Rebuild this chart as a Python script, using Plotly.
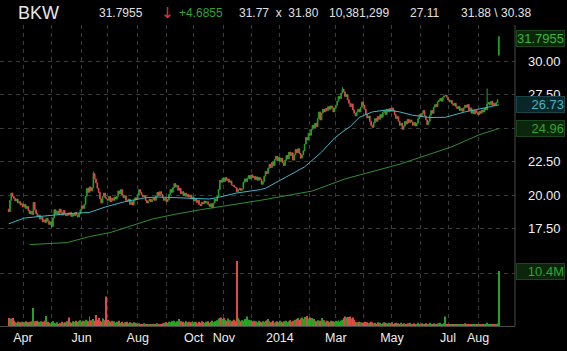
import pandas as pd
import plotly.graph_objects as go

# ---------------- data ----------------
closes = [
    18.75, 19.6, 20.15, 19.9, 19.75, 19.55, 19.7, 19.4, 19.5, 19.25,
    19.35, 19.1, 19.3, 19.0, 19.15, 18.85, 18.6, 18.8, 18.55, 19.45,
    18.9, 18.6, 18.4, 18.5, 18.2, 18.35, 18.0, 18.15, 17.95, 18.25,
    18.05, 17.8, 18.0, 17.65, 18.3, 18.9, 18.6, 18.8, 18.55, 18.95,
    18.7, 18.5, 18.85, 18.6, 18.45, 18.65, 18.5, 18.7, 18.4, 18.55,
    18.45, 18.7, 18.5, 18.35, 18.6, 18.9, 19.2, 19.0, 19.3, 19.9,
    20.5, 20.2, 20.6, 20.3, 20.55, 21.6, 21.2, 20.9, 20.5, 20.2,
    19.7, 19.4, 19.9, 20.15, 19.8, 19.7, 19.6, 19.9, 19.5, 19.75,
    19.6, 19.85, 19.7, 19.9, 20.3, 20.1, 20.4, 20.0, 19.8, 19.95,
    19.6, 19.55, 19.7, 19.3, 19.5, 19.25, 19.6, 19.8, 19.65, 20.0,
    20.4, 20.2, 20.0, 19.85, 19.95, 19.6, 19.4, 19.55, 19.7, 19.5,
    19.65, 19.8, 19.6, 19.9, 20.2, 19.95, 20.25, 20.05, 19.8, 19.6,
    19.75, 19.5, 19.65, 20.05, 20.4, 20.2, 20.55, 20.85, 20.6, 20.7,
    20.35, 20.5, 20.1, 20.25, 19.95, 20.15, 19.9, 20.05, 19.85, 20.0,
    19.7, 19.85, 19.55, 19.7, 19.45, 19.6, 19.3, 19.2, 19.45, 19.35,
    19.55, 19.4, 19.5, 19.3, 19.15, 19.35, 19.05, 19.4, 19.7, 19.55,
    19.9, 20.4, 21.1, 20.95, 21.25, 21.0, 21.3, 21.1, 21.2, 20.95,
    21.05, 20.75, 20.7, 20.6, 20.55, 20.25, 20.4, 20.5, 20.35, 20.45,
    20.95, 21.2, 21.0, 21.25, 21.45, 21.2, 21.5, 21.3, 21.4, 21.15,
    21.35, 21.1, 21.3, 21.15, 20.8, 21.0, 21.4, 21.75, 21.6, 22.0,
    22.3, 22.05, 22.45, 22.2, 22.65, 22.9, 22.55, 22.8, 22.5, 22.75,
    22.4, 22.2, 22.6, 22.95, 22.7, 23.2, 22.95, 23.15, 22.6, 23.0,
    23.4, 23.15, 23.45, 23.1, 22.75, 23.0, 23.3, 23.8, 24.3, 24.1,
    24.6, 24.45, 24.9, 25.2, 25.0, 25.35, 25.1, 25.7, 26.2, 25.6,
    26.1, 26.4, 26.2, 26.45, 26.3, 26.6, 26.4, 26.65, 26.5, 26.2,
    26.5, 26.7, 27.0, 27.35, 27.2, 27.6, 27.9, 27.7, 27.35, 27.5,
    27.1, 26.85, 26.6, 26.8, 26.35, 26.1, 25.9, 26.2, 26.4, 26.2,
    26.55, 26.95, 26.7, 26.4, 26.0, 25.75, 25.9, 25.5, 25.2, 25.05,
    25.4, 25.7, 25.5, 25.85, 25.65, 26.0, 25.8, 26.15, 26.3, 26.0,
    26.4, 26.2, 26.45, 26.25, 26.5, 26.3, 26.0, 25.7, 25.85, 25.5,
    25.2, 25.35, 24.9, 25.15, 25.5, 25.3, 25.65, 25.4, 25.6, 25.45,
    25.2, 25.4, 25.15, 25.35, 25.7, 26.0, 25.85, 26.1, 26.3, 25.9,
    25.6, 25.25, 25.5, 25.95, 26.3, 26.1, 26.55, 26.75, 26.6, 26.95,
    27.05, 27.2, 27.0, 27.3, 27.4, 27.45, 27.3, 27.1, 26.95, 27.05,
    26.8, 26.7, 26.85, 26.6, 26.45, 26.6, 26.3, 26.45, 26.25, 26.5,
    26.7, 26.55, 26.75, 26.3, 26.5, 26.1, 26.35, 26.05, 26.3, 26.15,
    26.0, 26.25, 26.1, 26.35, 26.2, 26.5, 26.35, 26.8, 26.9, 26.75,
    27.0, 26.7, 26.85, 26.7, 26.9, 27.11, 31.7955,
]
first_open = 18.95
open_gaps = {376: 30.45}
high_wicks = {65: 21.75, 256: 28.05, 367: 27.95, 376: 31.88}
low_wicks = {33: 17.55, 376: 30.38}

volumes_m = [
    1.5, 1.1, 1.4, 1.5, 1.0, 0.7, 0.6, 0.8, 0.6, 0.7,
    0.8, 0.6, 0.7, 0.9, 0.6, 0.7, 0.8, 0.6, 0.9, 3.4,
    0.9, 0.7, 1.0, 0.8, 0.7, 0.9, 0.8, 0.6, 1.0, 1.9,
    0.8, 0.6, 0.5, 0.7, 0.9, 0.6, 0.5, 0.7, 0.4, 0.6,
    0.5, 0.8, 0.6, 0.7, 0.5, 0.9, 1.6, 0.7, 0.6, 0.9,
    0.8, 0.7, 1.0, 0.8, 0.9, 1.1, 0.8, 1.0, 0.9, 1.2,
    1.0, 0.9, 1.8, 1.1, 0.9, 1.3, 1.0, 2.1, 1.2, 1.5,
    1.0, 0.8, 1.4, 0.9, 1.1, 5.6, 1.2, 0.9, 0.8, 1.0,
    0.7, 0.9, 0.6, 0.8, 0.7, 1.0, 0.6, 0.8, 0.5, 0.7,
    0.6, 0.8, 0.5, 0.7, 0.6, 0.5, 0.7, 0.6, 0.5, 0.4,
    0.5, 0.3, 0.4, 0.3, 0.5, 0.3, 0.4, 0.2, 0.3, 0.4,
    0.3, 0.2, 0.4, 0.3, 0.5, 0.3, 0.4, 0.3, 0.5, 0.6,
    0.5, 0.7, 0.6, 0.8, 0.7, 0.9, 0.8, 1.0, 0.7, 0.9,
    0.8, 1.3, 0.9, 0.7, 0.8, 0.6, 0.9, 0.7, 0.8, 0.6,
    0.7, 0.9, 0.6, 0.8, 0.7, 0.5, 0.8, 0.6, 0.9, 0.7,
    0.6, 0.8, 0.7, 0.9, 0.6, 0.8, 1.0, 0.7, 0.9, 0.8,
    1.1, 1.4, 1.5, 1.6, 1.3, 1.5, 1.2, 1.0, 1.4, 0.9,
    1.1, 0.9, 1.0, 1.2, 0.9, 12.3, 1.5, 1.2, 0.9, 1.1,
    1.0, 1.3, 0.9, 1.8, 1.2, 0.8, 1.1, 0.9, 1.0, 0.8,
    0.9, 0.7, 1.0, 0.8, 0.7, 0.9, 0.8, 1.0, 1.1, 1.3,
    0.9, 0.7, 0.8, 1.0, 0.6, 0.8, 0.9, 0.7, 1.0, 0.8,
    0.7, 0.9, 0.8, 1.0, 0.7, 0.9, 1.1, 0.8, 1.0, 0.9,
    1.2, 1.3, 1.5, 1.2, 1.4, 1.6, 1.3, 1.7, 1.5, 1.9,
    1.4, 1.6, 1.2, 1.5, 1.3, 1.0, 0.9, 1.1, 0.8, 1.0,
    1.5, 0.9, 1.1, 0.8, 1.0, 0.9, 0.7, 1.0, 0.8, 0.9,
    0.8, 1.0, 0.9, 1.1, 0.8, 1.0, 1.2, 1.5, 1.8, 1.6,
    1.7, 1.5, 1.8, 1.4, 1.6, 1.2, 0.8, 0.7, 0.6, 0.8,
    0.7, 0.5, 0.6, 0.8, 0.6, 0.7, 0.5, 0.6, 0.8, 0.7,
    0.5, 0.6, 0.4, 0.7, 0.5, 0.6, 0.4, 0.5, 0.7, 0.6,
    0.5, 0.4, 0.6, 0.5, 0.7, 0.4, 0.5, 0.6, 0.4, 0.5,
    0.4, 0.6, 0.3, 0.5, 0.4, 0.3, 0.5, 0.4, 0.6, 0.3,
    0.4, 0.5, 0.3, 0.4, 0.6, 0.3, 0.4, 0.5, 0.3, 0.4,
    0.5, 0.3, 0.4, 0.6, 0.4, 0.3, 0.5, 0.4, 0.3, 0.5,
    0.4, 0.6, 0.4, 0.3, 0.5, 1.8, 0.4, 0.3, 0.4, 0.3,
    0.2, 0.4, 0.3, 0.2, 0.4, 0.3, 0.2, 0.3, 0.4, 0.2,
    0.5, 0.3, 0.2, 0.4, 0.3, 0.2, 0.3, 0.4, 0.2, 0.3,
    0.3, 0.2, 0.4, 0.3, 0.2, 0.3, 0.4, 0.6, 0.4, 0.3,
    0.4, 0.3, 0.2, 0.3, 0.4, 0.5, 10.381299,
]

# moving averages (trading-day number, value)
ma50_day = [0, 12, 19, 32, 45, 62, 74, 89, 105, 115, 128, 139, 154, 162, 175,
            193, 197, 212, 227, 240, 250, 258, 262, 269, 279, 290, 300, 310,
            323, 335, 350, 365, 376]
ma50_val = [17.85, 18.28, 18.35, 18.5, 18.6, 18.7, 19.1, 19.5, 19.8, 19.85, 19.8,
            19.8, 19.7, 19.85, 20.15, 20.4, 20.5, 21.3, 22.1, 23.2, 24.25, 24.85,
            25.1, 25.8, 26.2, 26.35, 26.2, 25.95, 25.78, 25.8, 26.2, 26.5, 26.73]
ma200_day = [16, 45, 62, 78, 110, 127, 147, 175, 193, 233, 258, 300, 340, 361, 376]
ma200_val = [16.3, 16.45, 16.9, 17.2, 18.2, 18.55, 18.9, 19.35, 19.6, 20.3, 21.2,
             22.3, 23.6, 24.5, 24.96]

tick_months = ["2013-04", "2013-05", "2013-06", "2013-07", "2013-08", "2013-09",
               "2013-10", "2013-11", "2013-12", "2014-01", "2014-02", "2014-03",
               "2014-04", "2014-05", "2014-06", "2014-07", "2014-08"]
tick_texts = ["Apr", "", "Jun", "", "Aug", "", "Oct", "Nov", "", "2014", "",
              "Mar", "", "May", "", "Jul", "Aug"]

price_ticks = [17.5, 20.0, 22.5, 25.0, 27.5, 30.0]
price_tick_texts = ["17.50", "20.00", "22.50", "", "27.50", "30.00"]

header = [("BKW", "#e6e6e6"), ("31.7955", "#e0e0e0"), ("\u2193", "#e23a3a"),
          ("+4.6855", "#2fa52f"), ("31.77  x  31.80", "#e0e0e0"),
          ("10,381,299", "#e0e0e0"), ("27.11", "#e0e0e0"), ("31.88 \\ 30.38", "#e0e0e0")]

# ---------------- build ----------------
n = len(closes)
dates = pd.bdate_range(end="2014-08-25", periods=n)
days = list(range(n))
opens = [first_open] + closes[:-1]
for k, v in open_gaps.items():
    opens[k] = v
highs = [max(o, c) for o, c in zip(opens, closes)]
lows = [min(o, c) for o, c in zip(opens, closes)]
for k, v in high_wicks.items():
    highs[k] = v
for k, v in low_wicks.items():
    lows[k] = v

GREEN = "#22a322"
RED = "#e24848"
CYAN = "#3fb6c6"
MA200 = "#2f8f2f"
GRID = "#3a3a3a"
FONT = "Liberation Sans, Arial, sans-serif"

tick_pos = []
for m in tick_months:
    start = pd.Timestamp(m + "-01")
    tick_pos.append(int((dates < start).sum()))

# pixel layout of the window
W, H = 567, 351
L, R, T, B = 0, 52, 25, 25
plot_w = W - L - R
plot_h = H - T - B
apr_px, aug_px = 23, 478
i_apr, i_aug = tick_pos[0], tick_pos[-1]
px_per_day = (aug_px - apr_px) / (i_aug - i_apr)
x0 = i_apr - (apr_px - L) / px_per_day
x1 = i_apr + (L + plot_w - apr_px) / px_per_day

price_top_px, price_bot_px = 25, 250
vol_top_px, vol_bot_px = 258, 326
ppx = 13.4  # px per dollar
y_top = 25 + (128 - price_top_px) / ppx
y_bot = 25 - (price_bot_px - 128) / ppx
vol_px_per_m = 5.29
vol_max = (vol_bot_px - vol_top_px) / vol_px_per_m

def fy(py):
    return (H - B - py) / plot_h

vcolors = [GREEN if c >= o else RED for o, c in zip(opens, closes)]

fig = go.Figure()
fig.add_trace(go.Candlestick(
    x=days, open=opens, high=highs, low=lows, close=closes,
    xaxis="x", yaxis="y", whiskerwidth=0,
    increasing=dict(line=dict(color=GREEN, width=1), fillcolor=GREEN),
    decreasing=dict(line=dict(color=RED, width=1), fillcolor=RED),
    showlegend=False, hoverinfo="skip"))
fig.add_trace(go.Scatter(x=ma50_day, y=ma50_val, mode="lines", xaxis="x", yaxis="y",
                         line=dict(color=CYAN, width=1), showlegend=False))
fig.add_trace(go.Scatter(x=ma200_day, y=ma200_val, mode="lines", xaxis="x", yaxis="y",
                         line=dict(color=MA200, width=1), showlegend=False))
fig.add_trace(go.Bar(x=days, y=volumes_m, xaxis="x", yaxis="y2",
                     marker=dict(color=vcolors, line=dict(width=0)),
                     showlegend=False))

annotations = []
# right-side value boxes
boxes = [
    ("31.7955", "y", 31.65, "#38b838", "#0b260b", "#1d451d"),
    ("26.73", "y", 26.73, CYAN, "#0a2629", "#1b4448"),
    ("24.96", "y", 24.96, "#2fa52f", "#0b260b", "#1d451d"),
    ("10.4M", "y2", 10.381299, "#2fa52f", "#0b260b", "#1d451d"),
]
for txt, yr, yv, fc, bg, bc in boxes:
    annotations.append(dict(
        xref="paper", yref=yr, x=1, y=yv, xanchor="left", yanchor="middle",
        xshift=1, text=txt, showarrow=False, align="right",
        font=dict(family=FONT, size=13, color=fc), bgcolor=bg,
        bordercolor=bc, borderwidth=1, borderpad=0, width=47))

header_x = [16, 97, 159, 177, 237, 327, 408, 459]
header_size = [18, 12, 15, 12, 12, 12, 12, 12]
for (txt, col), hx, hs in zip(header, header_x, header_size):
    annotations.append(dict(
        xref="paper", yref="paper", x=(hx - L) / plot_w, y=fy(13),
        xanchor="left", yanchor="middle", text=txt, showarrow=False,
        font=dict(family="DejaVu Sans, " + FONT if txt == "\u2193" else FONT,
                  size=hs, color=col)))

fig.update_layout(
    width=W, height=H,
    margin=dict(l=L, r=R, t=T, b=B, autoexpand=False),
    paper_bgcolor="#000000", plot_bgcolor="#000000",
    font=dict(family=FONT, color="#e8e8e8"),
    showlegend=False, bargap=0.25,
    xaxis=dict(anchor="y2", range=[x0, x1], tickvals=tick_pos, ticktext=tick_texts,
               showgrid=True, gridcolor=GRID, griddash="4px,4px", gridwidth=1,
               zeroline=False, showline=True, linecolor="#4a4a4a", linewidth=1,
               ticks="", tickfont=dict(family=FONT, size=12.5, color="#eeeeee"),
               rangeslider=dict(visible=False)),
    yaxis=dict(domain=[fy(price_bot_px), 1], range=[y_bot, y_top], side="right",
               anchor="x", tickvals=price_ticks, ticktext=price_tick_texts,
               showgrid=True, gridcolor=GRID, griddash="4px,4px", zeroline=False,
               showline=False, ticks="", ticklabelstandoff=12,
               tickfont=dict(family=FONT, size=13, color="#f0f0f0")),
    yaxis2=dict(domain=[0, fy(vol_top_px)], range=[0, vol_max], side="right",
                anchor="x", tickvals=[10], showticklabels=False,
                showgrid=True, gridcolor=GRID, griddash="4px,4px", zeroline=False,
                showline=False),
    annotations=annotations,
    shapes=[dict(type="line", xref="paper", yref="paper", x0=1, x1=1, y0=0, y1=1,
                 line=dict(color="#4a4a4a", width=1))],
)

fig.write_html("out.html")
